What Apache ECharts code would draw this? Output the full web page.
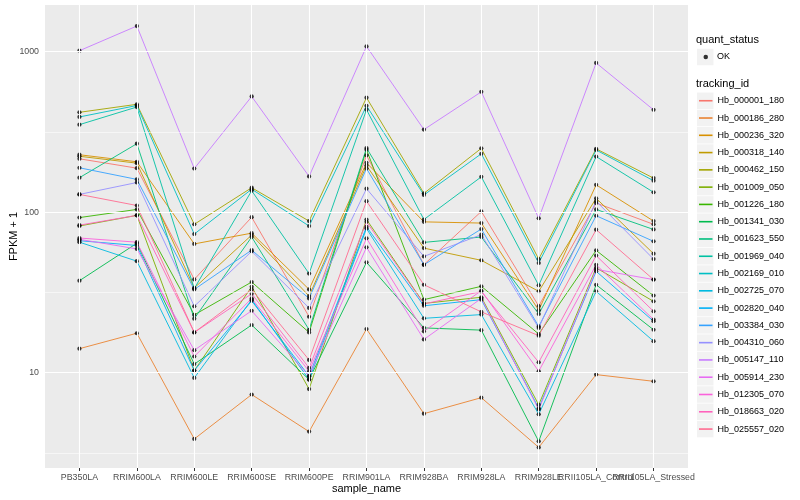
<!DOCTYPE html>
<html>
<head>
<meta charset="utf-8">
<script src="https://cdn.jsdelivr.net/npm/echarts@6/dist/echarts.min.js"></script>
<style>html,body{margin:0;padding:0;background:#fff}#c{width:800px;height:500px}</style>
</head>
<body>
<div id="c"></div>
<script>
const samples = ["PB350LA","RRIM600LA","RRIM600LE","RRIM600SE","RRIM600PE","RRIM901LA","RRIM928BA","RRIM928LA","RRIM928LE","RRII105LA_Control","RRII105LA_Stressed"];
const trackingIds = ["Hb_000001_180","Hb_000186_280","Hb_000236_320","Hb_000318_140","Hb_000462_150","Hb_001009_050","Hb_001226_180","Hb_001341_030","Hb_001623_550","Hb_001969_040","Hb_002169_010","Hb_002725_070","Hb_002820_040","Hb_003384_030","Hb_004310_060","Hb_005147_110","Hb_005914_230","Hb_012305_070","Hb_018663_020","Hb_025557_020"];
const colors = ["#F8766D","#EA8331","#D89000","#C09B00","#A3A500","#7CAE00","#39B600","#00BB4E","#00BF7D","#00C1A3","#00BFC4","#00BAE0","#00B0F6","#35A2FF","#9590FF","#C77CFF","#E76BF3","#FA62DB","#FF62BC","#FF6C91"];

// FPKM + 1 per tracking_id, in sample order
const Hb_000001_180 = [215, 188, 38.1, 93, 22.3, 226, 47.1, 101, 26, 114, 84];
const Hb_000186_280 = [14.1, 17.6, 3.86, 7.3, 4.29, 18.7, 5.55, 6.98, 3.42, 9.72, 8.83];
const Hb_000236_320 = [228, 206, 63.4, 74, 33, 203, 87, 85.5, 24.5, 148, 88];
const Hb_000318_140 = [223, 202, 33.7, 72, 30, 195, 59.7, 50.1, 32.1, 122, 55.1];
const Hb_000462_150 = [419, 470, 84, 142, 88, 517, 131, 250, 51, 248, 163];
const Hb_001009_050 = [82, 95.5, 10.3, 34.3, 7.9, 90, 27, 29.5, 6.3, 45, 27.8];
const Hb_001226_180 = [92.5, 104, 22.9, 36.7, 17.8, 245, 28.5, 34.5, 17.4, 57.8, 30.2];
const Hb_001341_030 = [37.4, 64, 11.3, 19.8, 9.05, 48.7, 19, 18.4, 3.73, 35.3, 18.5];
const Hb_001623_550 = [164, 267, 21.7, 70, 18.5, 251, 64.8, 70, 23.2, 104, 78];
const Hb_001969_040 = [351, 452, 33.4, 136, 41.4, 435, 90, 166, 35, 222, 133];
const Hb_002169_010 = [392, 462, 73, 139, 82, 460, 128, 231, 48.2, 244, 157];
const Hb_002725_070 = [65, 49.5, 9.27, 28.5, 9.05, 79, 21.8, 23, 5.5, 32.1, 15.7];
const Hb_002820_040 = [66.4, 62, 10.3, 28, 9.5, 81, 26.1, 28.5, 6, 42.8, 20.9];
const Hb_003384_030 = [189, 160, 33, 58, 29, 187, 47, 78.5, 19.4, 95, 65.8];
const Hb_004310_060 = [129, 153, 25.9, 57, 25.3, 140, 53, 72.4, 19, 117, 51];
const Hb_005147_110 = [1014, 1445, 187, 526, 167, 1079, 327, 562, 91.5, 851, 434];
const Hb_005914_230 = [67.7, 59, 13.8, 24.3, 9.5, 60.4, 16.1, 29, 5.9, 44, 38];
const Hb_012305_070 = [69, 65, 12.6, 29, 10.2, 68.7, 18.1, 32.4, 10.2, 47, 21.4];
const Hb_018663_020 = [83, 95.5, 17.8, 31, 10.7, 87, 26.8, 32, 11.6, 53.6, 24.1];
const Hb_025557_020 = [129, 110, 17.8, 33, 12, 117, 35.3, 23.9, 17, 77.8, 38];

const seriesValues = [Hb_000001_180, Hb_000186_280, Hb_000236_320, Hb_000318_140, Hb_000462_150, Hb_001009_050, Hb_001226_180, Hb_001341_030, Hb_001623_550, Hb_001969_040, Hb_002169_010, Hb_002725_070, Hb_002820_040, Hb_003384_030, Hb_004310_060, Hb_005147_110, Hb_005914_230, Hb_012305_070, Hb_018663_020, Hb_025557_020];

const yMajorTicks = [10, 100, 1000];
const yMinorBreaks = [3.1623, 31.623, 316.23];
const yMin = 2.545, yMax = 1954;

const FONT = '"Liberation Sans", Arial, sans-serif';
const chart = echarts.init(document.getElementById('c'), null, {renderer: 'canvas'});

const sampleIdx = samples.map((s, i) => i);
// even and odd sample positions go on two overlaid bottom axes so that
// neighbouring long labels are all drawn (they overlap, as in the original)
const evenIdx = sampleIdx.filter(i => i % 2 === 0);
const oddIdx = sampleIdx.filter(i => i % 2 === 1);

const gridLineData = []
  .concat(sampleIdx.map(i => ({xAxis: i, lineStyle: {width: 1.1}})))
  .concat(yMajorTicks.map(v => ({yAxis: v, lineStyle: {width: 1.1}})))
  .concat(yMinorBreaks.map(v => ({yAxis: v, lineStyle: {width: 0.55}})));

const lineSeries = trackingIds.map((id, k) => ({
  name: id,
  type: 'line',
  data: seriesValues[k].map((v, i) => [i, v]),
  showSymbol: false,
  symbol: 'none',
  itemStyle: {color: colors[k]},
  lineStyle: {color: colors[k], width: 0.9},
  z: 3,
  silent: true,
  animation: false
}));

const okPoints = [];
seriesValues.forEach(vals => vals.forEach((v, i) => okPoints.push([i, v])));

const legendTop = 92.1, legendStep = 17.28;
const keyRects = trackingIds.map((id, k) => ({
  type: 'rect', shape: {x: 697, y: legendTop + 0.4 + k * legendStep, width: 16.5, height: 16.5},
  style: {fill: '#F2F2F2'}, z: 0
}));

function xAxisFor(idxList, withName) {
  return {
    type: 'value', min: -0.6, max: 10.6, position: 'bottom', offset: 0,
    name: withName ? 'sample_name' : '', nameLocation: 'middle', nameGap: 15, nameMoveOverlap: false,
    nameTextStyle: {fontFamily: FONT, fontSize: 11, color: '#000'},
    axisLine: {show: false},
    axisTick: {show: true, length: 3, lineStyle: {color: '#333', width: 1}, customValues: idxList},
    axisLabel: {customValues: idxList, formatter: v => samples[Math.round(v)], fontFamily: FONT, fontSize: 8.8, color: '#4D4D4D', margin: 5, hideOverlap: false, showMinLabel: true, showMaxLabel: true},
    splitLine: {show: false}
  };
}

chart.setOption({
  animation: false,
  backgroundColor: '#ffffff',
  grid: {left: 45, right: 112, top: 5, bottom: 32, show: true, backgroundColor: '#EBEBEB', borderWidth: 0, containLabel: false, outerBoundsMode: 'none'},
  xAxis: [xAxisFor(evenIdx, true), xAxisFor(oddIdx, false)],
  yAxis: {
    type: 'log', logBase: 10, min: yMin, max: yMax,
    name: 'FPKM + 1', nameLocation: 'middle', nameGap: 26, nameRotate: 90, nameMoveOverlap: false,
    nameTextStyle: {fontFamily: FONT, fontSize: 11, color: '#000'},
    axisLine: {show: false},
    axisTick: {show: true, length: 3, lineStyle: {color: '#333', width: 1}, customValues: yMajorTicks},
    axisLabel: {customValues: yMajorTicks, formatter: v => String(Math.round(v)), fontFamily: FONT, fontSize: 8.8, color: '#4D4D4D', margin: 6, showMinLabel: true, showMaxLabel: true},
    splitLine: {show: false},
    minorSplitLine: {show: false}
  },
  legend: [
    {
      data: trackingIds, orient: 'vertical', left: 699, top: legendTop, padding: 0,
      icon: 'rect', itemWidth: 13.5, itemHeight: 1.6, itemGap: 0,
      selectedMode: false,
      textStyle: {fontFamily: FONT, fontSize: 9, color: '#000', lineHeight: legendStep, padding: 0}
    },
    {
      data: ['OK'], orient: 'vertical', left: 703.5, top: 57 - legendStep / 2, padding: 0,
      icon: 'circle', itemWidth: 4.5, itemHeight: 4.5, itemGap: 0,
      selectedMode: false,
      textStyle: {fontFamily: FONT, fontSize: 9, color: '#000', lineHeight: legendStep, padding: [0, 0, 0, 4]}
    }
  ],
  graphic: [
    {type: 'text', left: 696, top: 34.5, style: {text: 'quant_status', font: '11px ' + FONT, fill: '#000'}, z: 1},
    {type: 'text', left: 696, top: 78, style: {text: 'tracking_id', font: '11px ' + FONT, fill: '#000'}, z: 1},
    {type: 'rect', shape: {x: 697, y: 57 - 8.25, width: 16.5, height: 16.5}, style: {fill: '#F2F2F2'}, z: 0}
  ].concat(keyRects),
  series: [
    {
      name: 'grid', type: 'line', data: [], silent: true, z: 1,
      markLine: {silent: true, symbol: 'none', label: {show: false}, animation: false,
        lineStyle: {color: '#FFFFFF', type: 'solid'}, data: gridLineData}
    }
  ].concat(lineSeries).concat([
    {name: 'OK', type: 'scatter', data: okPoints, symbol: 'circle', symbolSize: 4.2, itemStyle: {color: '#000'}, z: 4, silent: true}
  ])
});
</script>
</body>
</html>
